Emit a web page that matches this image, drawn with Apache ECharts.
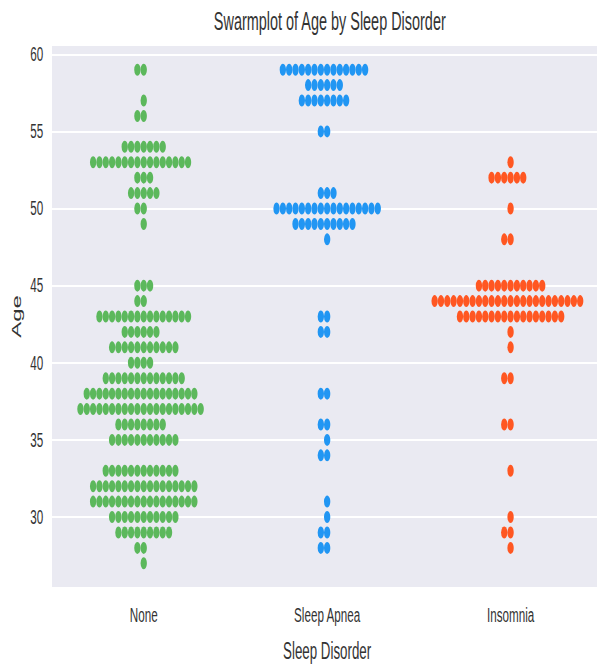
<!DOCTYPE html>
<html><head><meta charset="utf-8">
<script src="https://cdn.jsdelivr.net/npm/echarts@6/dist/echarts.min.js"></script>
<style>
html,body{margin:0;padding:0;background:#fff;overflow:hidden;}
#wrap{width:597px;height:667px;overflow:hidden;position:relative;}
#chart{width:1083.6px;height:667px;transform:scaleX(0.5556);transform-origin:0 0;}
</style></head><body>
<div id="wrap"><div id="chart"></div></div>
<script>
// ---- data (age value -> number of people at that age) ----
const categories = ['None', 'Sleep Apnea', 'Insomnia'];
const yTicks = [30, 35, 40, 45, 50, 55, 60];

const noneAges   = [59, 57, 56, 54, 53, 52, 51, 50, 49, 45, 44, 43, 42, 41, 40, 39, 38, 37, 36, 35, 33, 32, 31, 30, 29, 28, 27];
const noneCounts = [ 2,  1,  2,  7, 16,  3,  5,  2,  1,  3,  2, 15,  6, 11,  4, 13, 18, 20,  8, 11, 12, 17, 17, 11,  9,  2,  1];

const apneaAges   = [59, 58, 57, 55, 51, 50, 49, 48, 43, 42, 38, 36, 35, 34, 31, 30, 29, 28];
const apneaCounts = [14,  6,  8,  2,  3, 17, 10,  1,  2,  2,  2,  2,  1,  2,  1,  1,  2,  2];

const insomniaAges   = [53, 52, 50, 48, 45, 44, 43, 42, 41, 39, 36, 33, 30, 29, 28];
const insomniaCounts = [ 1,  6,  1,  2, 11, 24, 17,  1,  1,  2,  2,  1,  1,  2,  1];

const colors = ['#5cb85c', '#2196f3', '#ff5722'];

// ---- swarm layout: points of equal age placed side by side around the category centre ----
const STEP = 0.0345; // horizontal distance between neighbouring dots, in category units
function swarm(catIndex, ages, counts) {
  const out = [];
  ages.forEach((age, i) => {
    const n = counts[i];
    for (let k = 0; k < n; k++) {
      out.push([catIndex + (k - Math.floor(n / 2)) * STEP, age]);
    }
  });
  return out;
}
const groups = [
  [noneAges, noneCounts],
  [apneaAges, apneaCounts],
  [insomniaAges, insomniaCounts]
];

const FONT = 'Liberation Sans, Arial, sans-serif';
const chart = echarts.init(document.getElementById('chart'), null, { renderer: 'svg' });
chart.setOption({
  animation: false,
  backgroundColor: '#ffffff',
  textStyle: { fontFamily: FONT },
  title: {
    text: 'Swarmplot of Age by Sleep Disorder',
    left: 588.6, top: 3, textAlign: 'center',
    textStyle: { fontSize: 26, fontWeight: 'normal', color: '#333', fontFamily: FONT }
  },
  grid: {
    left: 93.6, right: 0, top: 45, bottom: 79,
    show: true, backgroundColor: '#eaeaf2', borderWidth: 0
  },
  xAxis: [
    {
      type: 'category', data: categories, boundaryGap: true, position: 'bottom',
      axisLine: { show: false }, axisTick: { show: false }, splitLine: { show: false },
      axisLabel: { fontSize: 21, color: '#333', margin: 17, fontFamily: FONT },
      name: 'Sleep Disorder', nameLocation: 'middle', nameGap: 50,
      nameTextStyle: { fontSize: 24, color: '#333', fontFamily: FONT }
    },
    { type: 'value', min: -0.5, max: 2.5, show: false, splitLine: { show: false } }
  ],
  yAxis: {
    type: 'value', min: 25.4, max: 60.6, splitNumber: 7,
    axisLine: { show: false }, axisTick: { show: false },
    axisLabel: { fontSize: 21, color: '#333', margin: 16, showMinLabel: false, showMaxLabel: false, fontFamily: FONT,
      formatter: v => (yTicks.indexOf(v) >= 0 ? String(v) : '') },
    splitLine: { show: true, lineStyle: { color: '#ffffff', width: 2 } },
    name: 'Age', nameLocation: 'middle', nameGap: 52,
    nameTextStyle: { fontSize: 24, color: '#333', fontFamily: FONT }
  },
  series: groups.map((g, c) => ({
    type: 'scatter',
    name: categories[c],
    xAxisIndex: 1, yAxisIndex: 0,
    symbol: 'circle', symbolSize: [11.4, 12],
    itemStyle: { color: colors[c], opacity: 1 },
    data: swarm(c, g[0], g[1])
  }))
});
</script>
</body></html>
